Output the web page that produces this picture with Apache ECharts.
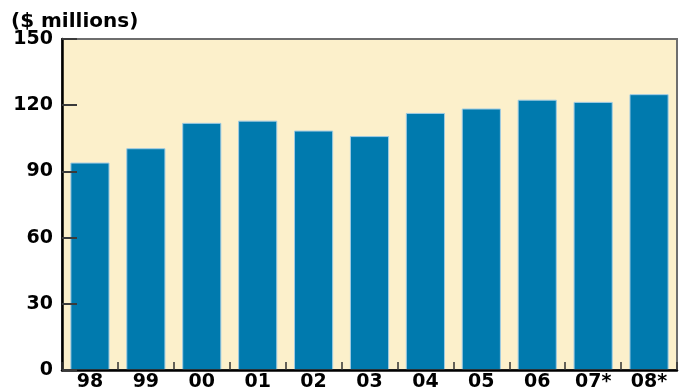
<!DOCTYPE html>
<html>
<head>
<meta charset="utf-8">
<style>
  html, body { margin: 0; padding: 0; background: #ffffff; }
  #chart { width: 680px; height: 387px; }
</style>
<script src="https://cdn.jsdelivr.net/npm/echarts@6/dist/echarts.min.js"></script>
</head>
<body>
<div id="chart"></div>
<script>
// Annual totals, $ millions (07 and 08 are estimates)
const years = ['98', '99', '00', '01', '02', '03', '04', '05', '06', '07*', '08*'];
const amounts = [94, 100.5, 112, 113, 108.5, 106, 116.5, 118.5, 122.5, 121.5, 125];
const yTicks = [0, 30, 60, 90, 120, 150];

const labelFont = '"DejaVu Sans", sans-serif';
const chart = echarts.init(document.getElementById('chart'), null, { renderer: 'canvas' });

chart.setOption({
  animation: false,
  backgroundColor: '#ffffff',
  title: {
    text: '($ millions)',
    left: 6,
    top: 7,
    textStyle: { fontFamily: labelFont, fontWeight: 'bold', fontSize: 20, color: '#000' }
  },
  grid: {
    left: 62, right: 3, top: 39, bottom: 17,
    containLabel: false,
    outerBoundsMode: 'none',
    show: true,
    backgroundColor: '#fcf0cb',
    borderColor: '#6e6e6e',
    borderWidth: 2
  },
  xAxis: {
    type: 'category',
    data: years,
    z: 10,
    axisLine: { show: true, lineStyle: { color: '#000', width: 2.5 } },
    axisTick: { show: true, inside: true, length: 8, lineStyle: { color: '#333', width: 1.5 } },
    axisLabel: {
      interval: 0,
      margin: 3,
      fontFamily: labelFont, fontWeight: 'bold', fontSize: 19, color: '#000'
    }
  },
  yAxis: {
    type: 'value',
    z: 10,
    min: yTicks[0],
    max: yTicks[yTicks.length - 1],
    interval: yTicks[1] - yTicks[0],
    splitLine: { show: false },
    axisLine: { show: true, lineStyle: { color: '#000', width: 2.5 } },
    axisTick: { show: true, inside: true, length: 15, lineStyle: { color: '#3a3a3a', width: 2 } },
    axisLabel: {
      margin: 9,
      fontFamily: labelFont, fontWeight: 'bold', fontSize: 19, color: '#000'
    }
  },
  series: [{
    type: 'bar',
    data: amounts,
    barWidth: '70%',
    itemStyle: {
      color: '#007aae',
      borderColor: '#9fcbe3',
      borderWidth: 1
    }
  }]
});
</script>
</body>
</html>
